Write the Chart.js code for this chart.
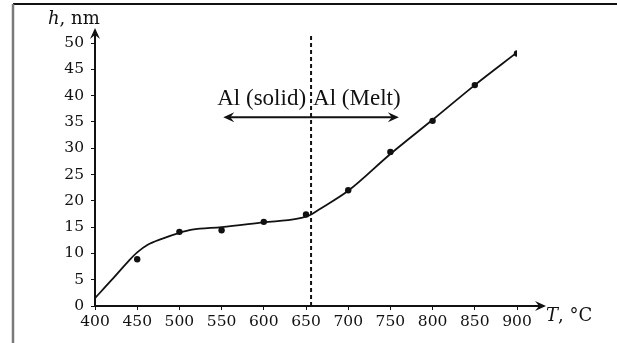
<!DOCTYPE html>
<html>
<head>
<meta charset="utf-8">
<script src="https://cdn.jsdelivr.net/npm/chart.js@4/dist/chart.umd.min.js"></script>
<style>
  html, body { margin: 0; padding: 0; background: #fff; }
  #wrap { width: 617px; height: 343px; }
</style>
</head>
<body>
<div id="wrap"><canvas id="c" width="617" height="343"></canvas></div>
<script>
// measured points
const tempPoints = [450, 500, 550, 600, 650, 700, 750, 800, 850, 900];
const heightPoints = [8.9, 14.1, 14.4, 16.0, 17.4, 22.0, 29.3, 35.2, 42.0, 48.0];

// smoothed fit curve
const curveTemps = [400, 420, 440, 450, 462, 480, 500, 515, 550, 600, 640, 655, 665, 700, 750, 800, 850, 900];
const curveHeights = [1.5, 5.0, 8.6, 10.2, 11.6, 12.8, 13.9, 14.5, 15.0, 15.9, 16.6, 17.3, 18.3, 21.9, 28.9, 35.4, 42.0, 48.2];

const xRange = [400, 900];
const yRange = [0, 50];
const xStep = 50;
const yStep = 5;

// annotation: melting point and the solid/melt arrow
const meltTemp = 656;
const arrowLevel = 35.9;
const arrowFrom = 552;
const arrowTo = 760;
const solidLabel = 'Al (solid)';
const meltLabel = 'Al (Melt)';

const tickFont = { family: 'DejaVu Serif', size: 15.5 };
const ink = '#111';

function arrowHead(ctx, x, y, angle) {
    ctx.save();
    ctx.translate(x, y);
    ctx.rotate(angle);
    ctx.beginPath();
    ctx.moveTo(0, 0);
    ctx.lineTo(-11, -5);
    ctx.lineTo(-7, 0);
    ctx.lineTo(-11, 5);
    ctx.closePath();
    ctx.fill();
    ctx.restore();
}

const extras = {
    id: 'extras',
    afterDraw(chart) {
        const ctx = chart.ctx,
            area = chart.chartArea,
            xs = chart.scales.x,
            ys = chart.scales.y;
        ctx.save();
        ctx.strokeStyle = ink;
        ctx.fillStyle = ink;

        // frame
        ctx.lineWidth = 2;
        ctx.beginPath();
        ctx.moveTo(13, 4);
        ctx.lineTo(617, 4);
        ctx.stroke();
        ctx.strokeStyle = '#7a7a7a';
        ctx.lineWidth = 2.5;
        ctx.beginPath();
        ctx.moveTo(13, 4);
        ctx.lineTo(13, 343);
        ctx.stroke();
        ctx.strokeStyle = ink;

        // axes with arrows
        const x0 = area.left, y0 = area.bottom;
        ctx.lineWidth = 2;
        ctx.beginPath();
        ctx.moveTo(x0, y0);
        ctx.lineTo(x0, area.top - 13);
        ctx.moveTo(x0, y0);
        ctx.lineTo(area.right + 27, y0);
        ctx.stroke();
        arrowHead(ctx, x0, area.top - 15, -Math.PI / 2);
        arrowHead(ctx, area.right + 29, y0, 0);

        // melting point dashed line
        const mx = xs.getPixelForValue(meltTemp);
        ctx.setLineDash([4, 3]);
        ctx.beginPath();
        ctx.moveTo(mx, area.top - 7);
        ctx.lineTo(mx, y0);
        ctx.stroke();
        ctx.setLineDash([]);

        // double arrow
        const ay = ys.getPixelForValue(arrowLevel),
            a1 = xs.getPixelForValue(arrowFrom),
            a2 = xs.getPixelForValue(arrowTo);
        ctx.beginPath();
        ctx.moveTo(a1 + 4, ay);
        ctx.lineTo(a2 - 4, ay);
        ctx.stroke();
        arrowHead(ctx, a1, ay, Math.PI);
        arrowHead(ctx, a2, ay, 0);

        ctx.font = '23px "Liberation Serif"';
        ctx.textBaseline = 'alphabetic';
        ctx.textAlign = 'right';
        ctx.fillText(solidLabel, mx - 5, ay - 12);
        ctx.textAlign = 'left';
        ctx.fillText(meltLabel, mx + 2, ay - 12);

        // axis labels
        function label(italic, rest, x, y) {
            ctx.textAlign = 'left';
            ctx.font = 'italic 18px "DejaVu Serif"';
            ctx.fillText(italic, x, y);
            const w = ctx.measureText(italic).width;
            ctx.font = '18px "DejaVu Serif"';
            ctx.fillText(rest, x + w, y);
        }
        label('h', ', nm', x0 - 47, area.top - 19);
        label('T', ', °C', area.right + 29, y0 + 15);

        ctx.restore();
    }
};

new Chart(document.getElementById('c'), {
    type: 'scatter',
    data: {
        datasets: [
            {
                type: 'line',
                data: curveTemps.map((t, i) => ({ x: t, y: curveHeights[i] })),
                borderColor: ink,
                borderWidth: 1.8,
                pointRadius: 0,
                cubicInterpolationMode: 'monotone',
                fill: false
            },
            {
                data: tempPoints.map((t, i) => ({ x: t, y: heightPoints[i] })),
                backgroundColor: ink,
                borderColor: ink,
                pointRadius: 3.2,
                borderWidth: 0
            }
        ]
    },
    plugins: [extras],
    options: {
        responsive: false,
        animation: false,
        layout: { padding: { top: 43, right: 100, left: 0, bottom: 0 } },
        plugins: {
            legend: { display: false },
            tooltip: { enabled: false }
        },
        scales: {
            x: {
                type: 'linear',
                min: xRange[0],
                max: xRange[1],
                afterFit: s => { s.height = 37; },
                border: { display: false },
                grid: { drawOnChartArea: false, drawTicks: true, tickLength: 4, color: ink, lineWidth: 1 },
                ticks: { stepSize: xStep, font: tickFont, color: ink, padding: 3, maxRotation: 0 }
            },
            y: {
                min: yRange[0],
                max: yRange[1],
                afterFit: s => { s.width = 95; },
                border: { display: false },
                grid: { drawOnChartArea: false, drawTicks: true, tickLength: 4, color: ink, lineWidth: 1 },
                ticks: { stepSize: yStep, font: tickFont, color: ink, padding: 7 }
            }
        }
    }
});
</script>
</body>
</html>
